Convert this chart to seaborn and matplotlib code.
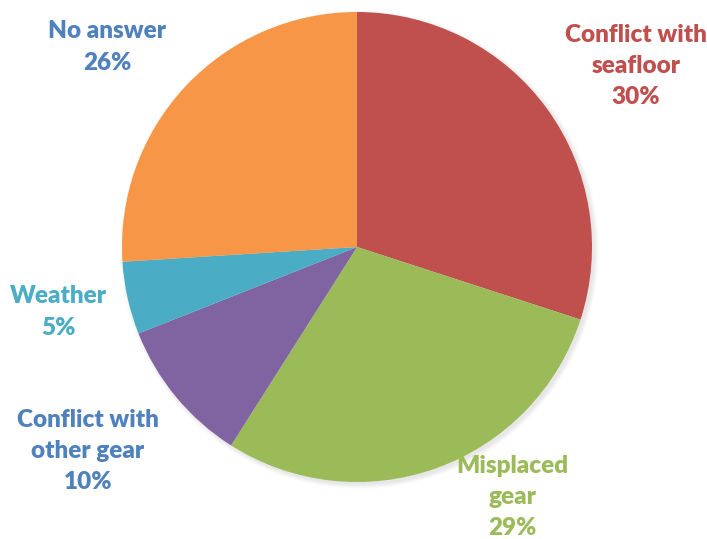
import matplotlib
matplotlib.use("Agg")
import matplotlib.pyplot as plt
import seaborn as sns
from matplotlib.patches import Circle

sns.set_theme(style="white")
plt.rcParams['font.family'] = ['Lato', 'DejaVu Sans']

categories = ["Conflict with\nseafloor", "Misplaced\ngear", "Conflict with\nother gear",
              "Weather", "No answer"]
shares = [30, 29, 10, 5, 26]

slice_colors = ["#C0504D", "#9BBB59", "#8064A2", "#4BACC6", "#F79646"]
label_colors = ["#C0504D", "#9BBB59", "#4F81BD", "#4BACC6", "#4F81BD"]
label_xy = [(636, 473), (512, 42), (88, 88), (58, 227), (107, 492)]

fig = plt.figure(figsize=(7.07, 5.39), dpi=100)
ax = fig.add_axes([0, 0, 1, 1])

cx, cy, r = 357, 292, 235

# soft drop shadow behind the pie
for i in range(8):
    ax.add_patch(Circle((cx + 2.5, cy - 2.5), r + 0.6 * i, color="black",
                        alpha=0.012, lw=0, zorder=0))

ax.pie(shares, colors=slice_colors, startangle=90, counterclock=False,
       center=(cx, cy), radius=r, wedgeprops=dict(linewidth=0),
       frame=True)

for name, val, col, (x, y) in zip(categories, shares, label_colors, label_xy):
    ax.text(x, y, f"{name}\n{val}%", color=col, fontsize=17.5, fontweight="heavy",
            ha="center", va="center", linespacing=1.52)

ax.set_xlim(0, 707)
ax.set_ylim(0, 539)
ax.set_aspect("auto")
ax.axis("off")

fig.savefig("out.png", dpi=100, facecolor="white")
